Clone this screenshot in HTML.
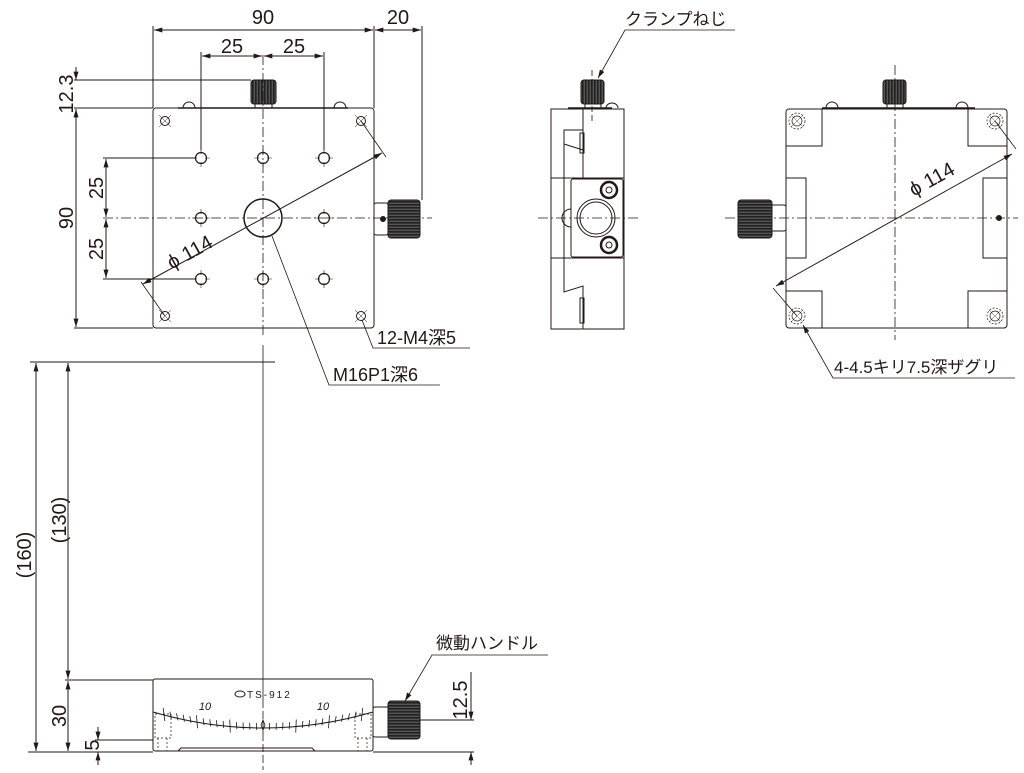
<!DOCTYPE html>
<html><head><meta charset="utf-8"><style>
html,body{margin:0;padding:0;background:#fff;}
svg{display:block;}
text{font-family:"Liberation Sans","Noto Sans CJK JP",sans-serif;fill:#231815;}
</style></head><body>
<svg id="s" width="1024" height="773" viewBox="0 0 1024 773" xmlns="http://www.w3.org/2000/svg">
<defs>
<marker id="a" viewBox="0 0 10 6" refX="10" refY="3" markerWidth="9" markerHeight="5" orient="auto-start-reverse" markerUnits="userSpaceOnUse"><path d="M0,0 L10,3 L0,6 z" fill="#231815"/></marker>
<pattern id="knurl" width="3" height="4" patternUnits="userSpaceOnUse"><rect width="3" height="4" fill="#555"/><rect width="1.6" height="4" fill="#222"/></pattern>
<pattern id="knurlh" width="4" height="3" patternUnits="userSpaceOnUse"><rect width="4" height="3" fill="#555"/><rect width="4" height="1.6" fill="#222"/></pattern>
<g id="h"><circle r="5.5" stroke-width="1.2"/><path d="M-9,0 h5 M4,0 h5 M0,-9 v5 M0,4 v5" stroke-width="0.6"/></g>
</defs>
<g stroke="#231815" fill="none" stroke-width="1">
<rect x="153" y="108" width="221" height="220" rx="3"/>
<line x1="178" y1="108" x2="348" y2="108" stroke-width="1.5"/>
<path d="M183,108 a6,6 0 0 1 12,0 M334,108 a6,6 0 0 1 12,0"/>
<rect x="255" y="103" width="17" height="5"/>
<rect x="251" y="80" width="25" height="24" rx="3" fill="url(#knurl)"/>
<line x1="263" y1="55" x2="263" y2="335" stroke-dasharray="10,3,2,3" stroke-width="0.8"/>
<line x1="103" y1="218" x2="432" y2="218" stroke-dasharray="10,3,2,3" stroke-width="0.8"/>
<use href="#h" x="201" y="158"/><use href="#h" x="263" y="158"/><use href="#h" x="324" y="158"/>
<use href="#h" x="201" y="218"/><use href="#h" x="324" y="218"/>
<use href="#h" x="201" y="279"/><use href="#h" x="263" y="279"/><use href="#h" x="324" y="279"/>
<g stroke-width="1">
<circle cx="165" cy="121" r="4.5"/><circle cx="361" cy="121" r="4.5"/><circle cx="165" cy="316" r="4.5"/><circle cx="361" cy="316" r="4.5"/>
<path d="M159,115 l12,12 M171,115 l-12,12 M355,115 l12,12 M367,115 l-12,12 M159,310 l12,12 M171,310 l-12,12 M355,310 l12,12 M367,310 l-12,12" stroke-width="0.5"/>
</g>
<circle cx="263" cy="218" r="19" stroke-width="1.5"/>
<rect x="374" y="203" width="14" height="32" rx="2"/>
<circle cx="383" cy="219" r="2.5" fill="#231815"/>
<rect x="388" y="200" width="32" height="38" rx="3" fill="url(#knurlh)"/>
<line x1="153" y1="108" x2="153" y2="26"/><line x1="374" y1="108" x2="374" y2="26"/><line x1="422" y1="200" x2="422" y2="26"/>
<line x1="154" y1="30" x2="373" y2="30" marker-start="url(#a)" marker-end="url(#a)"/>
<line x1="375" y1="30" x2="421" y2="30" marker-start="url(#a)" marker-end="url(#a)"/>
<line x1="201" y1="52" x2="201" y2="150"/><line x1="324" y1="52" x2="324" y2="150"/>
<line x1="202" y1="56" x2="262" y2="56" marker-start="url(#a)" marker-end="url(#a)"/>
<line x1="264" y1="56" x2="323" y2="56" marker-start="url(#a)" marker-end="url(#a)"/>
<line x1="74" y1="80" x2="251" y2="80"/><line x1="74" y1="108" x2="153" y2="108"/><line x1="74" y1="328" x2="153" y2="328"/>
<line x1="76" y1="67" x2="76" y2="80" marker-end="url(#a)"/>
<line x1="76" y1="109" x2="76" y2="327" marker-start="url(#a)" marker-end="url(#a)"/>
<line x1="103" y1="158" x2="195" y2="158"/><line x1="103" y1="279" x2="195" y2="279"/>
<line x1="106" y1="159" x2="106" y2="217" marker-start="url(#a)" marker-end="url(#a)"/>
<line x1="106" y1="219" x2="106" y2="278" marker-start="url(#a)" marker-end="url(#a)"/>
<line x1="143" y1="284" x2="382" y2="153" marker-start="url(#a)" marker-end="url(#a)"/>
<line x1="361" y1="121" x2="386" y2="157" stroke-width="0.8"/><line x1="165" y1="316" x2="141" y2="282" stroke-width="0.8"/>
<polyline points="362,320 373,348 470,348" stroke-width="0.8"/>
<polyline points="272,236 329,385 440,385" stroke-width="0.8"/>
<rect x="551" y="109" width="73" height="220"/>
<line x1="568" y1="108" x2="612" y2="108" stroke-width="1.5"/>
<path d="M606,108 a6,5 0 0 1 12,0"/>
<rect x="585" y="103" width="16" height="5"/>
<rect x="581" y="80" width="23" height="24" rx="3" fill="url(#knurl)"/>
<line x1="592" y1="70" x2="592" y2="122" stroke-dasharray="6,3" stroke-width="0.8"/>
<polyline points="583,109 583,178 564,178"/>
<polyline points="583,178 583,130 564,130 564,178"/>
<path d="M564,144 l19,6 M564,144 l0,-14"/>
<rect x="580" y="133" width="4" height="20"/>
<line x1="551" y1="178" x2="624" y2="178"/>
<rect x="571" y="179" width="52" height="78" rx="2"/>
<line x1="564" y1="178" x2="564" y2="258"/>
<circle cx="596" cy="218" r="19"/><circle cx="596" cy="218" r="16"/>
<circle cx="609" cy="190" r="8" stroke-width="2.5"/><circle cx="609" cy="190" r="3"/>
<circle cx="609" cy="245" r="8" stroke-width="2.5"/><circle cx="609" cy="245" r="3"/>
<path d="M571,209 a9,9 0 0 0 0,18"/>
<line x1="551" y1="258" x2="624" y2="258"/>
<polyline points="564,258 564,292 583,286 583,329"/>
<rect x="580" y="298" width="4" height="25"/>
<line x1="538" y1="218" x2="640" y2="218" stroke-dasharray="10,3,2,3" stroke-width="0.8"/>
<polyline points="598,78 625,30 735,30" stroke-width="0.8" marker-start="url(#a)"/>
<rect x="786" y="109" width="221" height="219" rx="3"/>
<line x1="822" y1="108" x2="975" y2="108" stroke-width="1.5"/>
<path d="M826,108 a6,6 0 0 1 12,0 M956,108 a6,6 0 0 1 12,0"/>
<rect x="887" y="103" width="16" height="5"/>
<rect x="883" y="80" width="23" height="24" rx="3" fill="url(#knurl)"/>
<polyline points="822,109 822,146 786,146"/><polyline points="968,109 968,146 1007,146"/>
<polyline points="822,328 822,291 786,291"/><polyline points="968,328 968,291 1007,291"/>
<rect x="786" y="178" width="20" height="80"/><rect x="983" y="178" width="24" height="80"/>
<g stroke-width="0.7">
<circle cx="797" cy="121" r="8" stroke-dasharray="2,1.5"/><circle cx="797" cy="121" r="5"/>
<circle cx="995" cy="121" r="8" stroke-dasharray="2,1.5"/><circle cx="995" cy="121" r="5"/>
<circle cx="797" cy="316" r="8" stroke-dasharray="2,1.5"/><circle cx="797" cy="316" r="5"/>
<circle cx="995" cy="316" r="8" stroke-dasharray="2,1.5"/><circle cx="995" cy="316" r="5"/>
<path d="M791,115 l12,12 M803,115 l-12,12 M989,115 l12,12 M1001,115 l-12,12 M791,310 l12,12 M803,310 l-12,12 M989,310 l12,12 M1001,310 l-12,12" stroke-width="0.4"/>
</g>
<circle cx="999" cy="218" r="2.5" fill="#231815"/>
<line x1="895" y1="65" x2="895" y2="340" stroke-dasharray="10,3,2,3" stroke-width="0.8"/>
<line x1="725" y1="218" x2="1018" y2="218" stroke-dasharray="10,3,2,3" stroke-width="0.8"/>
<rect x="771" y="205" width="15" height="26" rx="2"/>
<rect x="738" y="200" width="34" height="38" rx="3" fill="url(#knurlh)"/>
<line x1="776" y1="286" x2="1012" y2="154" marker-start="url(#a)" marker-end="url(#a)"/>
<line x1="995" y1="121" x2="1016" y2="149" stroke-width="0.8"/>
<line x1="797" y1="316" x2="773" y2="288" stroke-width="0.8"/>
<polyline points="803,325 833,378 1015,378" stroke-width="0.8" marker-start="url(#a)"/>
<line x1="263" y1="345" x2="263" y2="700" stroke-width="0.8"/>
<line x1="263" y1="700" x2="263" y2="770" stroke-dasharray="8,3" stroke-width="0.8"/>
<line x1="30" y1="362" x2="275" y2="362"/>
<rect x="153" y="679" width="220" height="72" rx="2"/>
<path d="M178,751 l3,-3 L312,748 l3,3" stroke-width="1"/>
<path d="M153,712 Q263,744 373,712"/>
<g id="ticks" stroke-width="0.8"></g>
<rect x="155" y="714" width="16" height="24" stroke-dasharray="2,2" stroke-width="0.7"/>
<rect x="355" y="714" width="16" height="24" stroke-dasharray="2,2" stroke-width="0.7"/>
<path d="M158,738 v13 M167,738 v13 M358,738 v13 M367,738 v13" stroke-dasharray="2,2" stroke-width="0.7"/>
<rect x="373" y="707" width="16" height="30" rx="2"/>
<rect x="388" y="701" width="32" height="38" rx="3" fill="url(#knurlh)"/>
<ellipse cx="240" cy="694" rx="5" ry="3"/>
<path d="M261,725 l2,-5 l2,5 l-2,5 z" stroke-width="0.8"/>
<line x1="28" y1="752" x2="153" y2="752"/><line x1="373" y1="752" x2="474" y2="752"/>
<line x1="65" y1="680" x2="153" y2="680"/>
<line x1="95" y1="740" x2="153" y2="740"/>
<line x1="36" y1="363" x2="36" y2="751" marker-start="url(#a)" marker-end="url(#a)"/>
<line x1="68" y1="363" x2="68" y2="679" marker-start="url(#a)" marker-end="url(#a)"/>
<line x1="68" y1="681" x2="68" y2="751" marker-start="url(#a)" marker-end="url(#a)"/>
<line x1="98" y1="727" x2="98" y2="740" marker-end="url(#a)"/>
<line x1="98" y1="765" x2="98" y2="752" marker-end="url(#a)"/>
<line x1="420" y1="720" x2="474" y2="720"/>
<line x1="471" y1="672" x2="471" y2="720" marker-end="url(#a)"/>
<line x1="471" y1="765" x2="471" y2="752" marker-end="url(#a)"/>
<polyline points="405,701 432,655 548,655" stroke-width="0.8" marker-start="url(#a)"/>
</g>
<g font-size="20">
<text x="263" y="24" text-anchor="middle">90</text>
<text x="398" y="24" text-anchor="middle">20</text>
<text x="232" y="53" text-anchor="middle">25</text>
<text x="294" y="53" text-anchor="middle">25</text>
<text transform="translate(73,94) rotate(-90)" text-anchor="middle">12.3</text>
<text transform="translate(73,218) rotate(-90)" text-anchor="middle">90</text>
<text transform="translate(103,188) rotate(-90)" text-anchor="middle">25</text>
<text transform="translate(103,249) rotate(-90)" text-anchor="middle">25</text>
<text transform="translate(193,258) rotate(-29)" text-anchor="middle">ϕ 114</text>
<text transform="translate(935,185) rotate(-29)" text-anchor="middle">ϕ 114</text>
<text x="377" y="344" font-size="18">12-M4深5</text>
<text x="333" y="381" font-size="18">M16P1深6</text>
<text x="625" y="25" font-size="17">クランプねじ</text>
<text x="834" y="373" font-size="17">4-4.5キリ7.5深ザグリ</text>
<text x="436" y="649" font-size="17">微動ハンドル</text>
<text transform="translate(31,555) rotate(-90)" text-anchor="middle">(160)</text>
<text transform="translate(66,520) rotate(-90)" text-anchor="middle">(130)</text>
<text transform="translate(66,716) rotate(-90)" text-anchor="middle">30</text>
<text transform="translate(99,745) rotate(-90)" text-anchor="middle">5</text>
<text transform="translate(467,700) rotate(-90)" text-anchor="middle">12.5</text>
</g>
<text x="247" y="698" font-size="10" letter-spacing="2">TS-912</text>
<text x="205" y="710" font-size="11" font-style="italic" text-anchor="middle">10</text>
<text x="323" y="710" font-size="11" font-style="italic" text-anchor="middle">10</text>
</svg>
<script>
(function(){
var g=document.getElementById('ticks'),ns='http://www.w3.org/2000/svg';
for(var i=-15;i<=15;i++){
 var x=263+i*6.6; var t=(x-153)/220; var y=(1-t)*(1-t)*712+2*(1-t)*t*744+t*t*712;
 var s=(x-263)/110*0.29; var L=(i%5==0)?13:7; var o=(L>7?6:2);
 var l=document.createElementNS(ns,'line');
 l.setAttribute('x1',x-s*3);l.setAttribute('y1',y+o);
 l.setAttribute('x2',x+s*3);l.setAttribute('y2',y-L+o);
 g.appendChild(l);
}
})();
</script>
</body></html>
